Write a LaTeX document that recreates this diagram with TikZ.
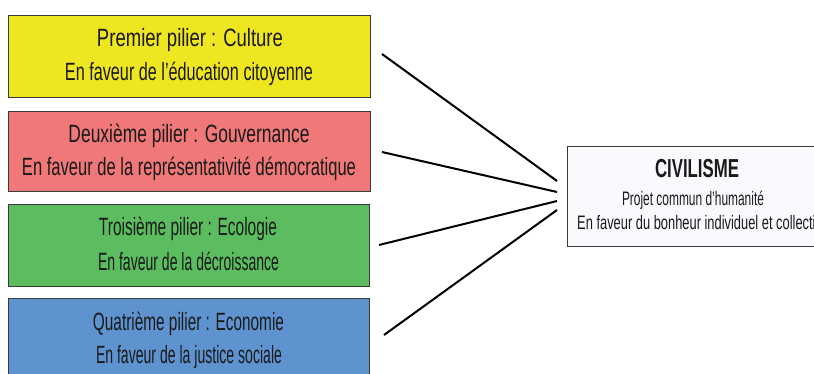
\documentclass[tikz,border=0pt]{standalone}
\usepackage{graphicx}
\usepackage{fontspec}
\setmainfont{Liberation Sans}
\newcommand{\fitline}[2]{\resizebox{#1}{\height}{#2}}
\definecolor{cyel}{HTML}{EEE621}
\definecolor{cred}{HTML}{F07878}
\definecolor{cgrn}{HTML}{5BBD5F}
\definecolor{cblu}{HTML}{5F93CF}
\definecolor{cciv}{HTML}{F9FAFD}
\definecolor{cbrd}{HTML}{3A3A36}
\definecolor{ctxt}{HTML}{1A1A1A}
\tikzset{
  pillar/.style={draw=cbrd, line width=1.3pt, minimum width=362pt, minimum height=82pt, inner sep=0pt, anchor=north west},
  ptext/.style={text=ctxt, font={\fontsize{25}{25}\selectfont}, inner sep=0pt, anchor=base},
  ctext/.style={text=ctxt, font={\fontsize{19.5}{19.5}\selectfont}, inner sep=0pt},
  link/.style={draw=black, line width=2pt},
}
\begin{document}
\begin{tikzpicture}[x=1pt,y=-1pt]
\useasboundingbox (0,0) rectangle (814,374);
\clip (0,0) rectangle (814,374);
\fill[white] (0,0) rectangle (814,374);
% pillars
\node[pillar, fill=cyel] (p1) at (8,15) {};
\node[pillar, fill=cred, minimum height=80pt] (p2) at (8,111) {};
\node[pillar, fill=cgrn, minimum width=361pt] (p3) at (8,204) {};
\node[pillar, fill=cblu, minimum width=361pt, minimum height=90pt] (p4) at (8,298) {};
\node[ptext] (t1a) at (190,47) {\fitline{186pt}{Premier pilier : Culture}};
\node[ptext] (t1b) at (189,81) {\fitline{248pt}{En faveur de l’éducation citoyenne}};
\node[ptext] (t2a) at (189,143) {\fitline{241pt}{Deuxième pilier : Gouvernance}};
\node[ptext] (t2b) at (189,176) {\fitline{334pt}{En faveur de la représentativité démocratique}};
\node[ptext] (t3a) at (188,236) {\fitline{178pt}{Troisième pilier : Ecologie}};
\node[ptext] (t3b) at (188.5,270) {\fitline{181pt}{En faveur de la décroissance}};
\node[ptext] (t4a) at (188.5,330) {\fitline{191pt}{Quatrième pilier : Economie}};
\node[ptext] (t4b) at (189,363) {\fitline{186pt}{En faveur de la justice sociale}};
% central box
\node[draw=cbrd, line width=1.3pt, fill=cciv, minimum width=256pt, minimum height=100pt, inner sep=0pt, anchor=north west] (civ) at (567,146) {};
\node[inner sep=0pt, anchor=base, text=ctxt, font={\fontsize{26}{26}\selectfont\bfseries}] (c1) at (697,178) {\fitline{84pt}{CIVILISME}};
\node[ctext, anchor=base] (c2) at (693,206) {\fitline{142pt}{Projet commun d’humanité}};
\node[ctext, anchor=base west] (c3) at (577,230) {\fitline{242pt}{En faveur du bonheur individuel et collectif}};
% connectors
\coordinate (s1) at (382,54);
\coordinate (s2) at (382,152);
\coordinate (s3) at (379,245);
\coordinate (s4) at (384,335);
\coordinate (e1) at (557,181);
\coordinate (e2) at (557,192);
\coordinate (e3) at (557,201);
\coordinate (e4) at (557,210);
\draw[link] (s1) -- (e1);
\draw[link] (s2) -- (e2);
\draw[link] (s3) -- (e3);
\draw[link] (s4) -- (e4);
\end{tikzpicture}
\end{document}
